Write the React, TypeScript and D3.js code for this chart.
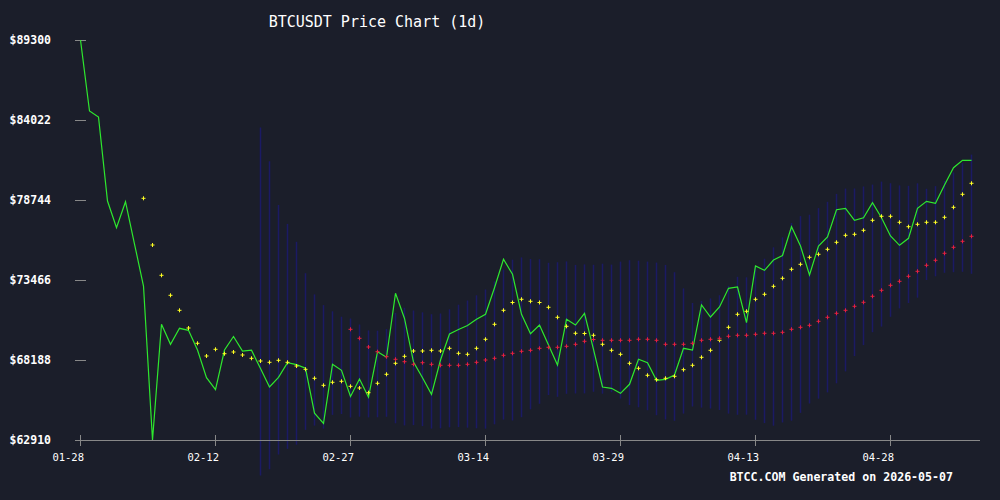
import React from 'react';
import * as d3 from 'd3';

// daily close, starting 2026-01-28
const startDate = '2026-01-28';
const closes = [
  89300, 84616, 84220, 78678, 76917, 78632, 75841, 73070, 62910, 70543,
  69224, 70279, 70147, 68848, 67020, 66229, 68848, 69738, 68782, 68835,
  67627, 66407, 67047, 68010, 67878, 67640, 64678, 64012, 67904, 67508,
  65780, 66934, 65734, 68729, 68366, 72589, 70926, 68056, 67020, 65925,
  68188, 69903, 70200, 70464, 70873, 71203, 72958, 74832, 73842, 71203,
  69923, 70497, 69178, 67858, 70873, 70497, 71269, 68894, 66407, 66321,
  65991, 66585, 68234, 68010, 66849, 66915, 67198, 68960, 68848, 71817,
  71025, 71685, 72918, 73004, 70649, 74390, 74106, 74786, 75082, 76982,
  75709, 73796, 75709, 76303, 78104, 78196, 77405, 77576, 78566, 77576,
  76369, 75755, 76217, 78196, 78658, 78526, 79734, 80875, 81363, 81363,
];

// short moving average (yellow), first value on day 7
const maShortStart = 7;
const maShort = [
  78856, 75775, 73776, 72457, 71467, 70299, 69290, 68452, 68894, 68604,
  68716, 68518, 68300, 68122, 68036, 68168, 68036, 67792, 67574, 66981,
  66519, 66717, 66783, 66453, 66341, 66031, 66651, 67245, 67970, 68432,
  68782, 68782, 68828, 68782, 68960, 68630, 68564, 68960, 69554, 70543,
  71467, 71982, 72193, 72061, 71982, 71665, 71005, 70411, 69950, 69936,
  69818, 69224, 68828, 68564, 67970, 67640, 67179, 66888, 66981, 67113,
  67548, 67838, 68366, 68828, 69488, 70345, 71203, 71401, 72193, 72523,
  73050, 73578, 74172, 74502, 74964, 75162, 75491, 75953, 76415, 76481,
  76745, 77405, 77669, 77669, 77273, 76982, 77141, 77273, 77273, 77603,
  78262, 79120, 79846,
];

// long moving average (red), first value on day 30
const maLongStart = 30;
const maLong = [
  70213, 69620, 69046, 68736, 68406, 68234, 68076, 67904, 68010, 67904,
  67838, 67838, 67838, 67904, 68036, 68188, 68300, 68498, 68630, 68762,
  68828, 68960, 69026, 69026, 69092, 69224, 69422, 69540, 69488, 69488,
  69488, 69488, 69554, 69554, 69488, 69224, 69224, 69224, 69290, 69488,
  69554, 69620, 69752, 69818, 69818, 69884, 69950, 69950, 70015, 70213,
  70345, 70477, 70741, 71005, 71269, 71467, 71731, 71995, 72391, 72786,
  73116, 73380, 73710, 74040, 74436, 74766, 75228, 75623, 76019, 76349,
];

// band (upper / lower), first value on day 20
const bandStart = 20;
const bandUpper = [
  83527, 81297, 78414, 77167, 75986, 73915, 72516, 71810, 71401, 71045,
  70926, 70530, 70141, 70121, 70227, 71295, 71632, 71454, 71335, 71210,
  71256, 71533, 71836, 72114, 72457, 72839, 73380, 74152, 74805, 74957,
  74851, 74838, 74601, 74640, 74693, 74462, 74495, 74469, 74541, 74482,
  74680, 74772, 74739, 74680, 74614, 74462, 73981, 72912, 71949, 72081,
  72252, 72463, 73083, 73677, 73644, 74363, 74871, 75623, 76283, 77227,
  77682, 77774, 78210, 78625, 79146, 79496, 79503, 79635, 79760, 79958,
  79852, 79707, 79681, 79846, 79483, 79661, 79998, 80565, 81172, 81739,
];
const bandLower = [
  60568, 60977, 61953, 62323, 62600, 63576, 63860, 63662, 64566, 64625,
  64394, 64447, 64401, 64408, 64441, 64012, 63873, 63893, 63827, 63662,
  63682, 63748, 63761, 63721, 63682, 63656, 63946, 64256, 64197, 64414,
  64935, 65298, 65879, 65760, 65958, 65978, 65985, 66090, 65965, 66064,
  65641, 65219, 65067, 64876, 64546, 64262, 64177, 64652, 65120, 65048,
  64988, 64889, 64652, 64573, 64579, 64243, 64025, 63853, 64065, 64183,
  64698, 65318, 65635, 66050, 66651, 67436, 68445, 69171, 70022, 70392,
  71038, 71592, 71949, 72298, 73466, 73710, 73941, 73981, 74007, 73875,
];

const yTicks = [89300, 84022, 78744, 73466, 68188, 62910];
const xTickLabels = ['01-28', '02-12', '02-27', '03-14', '03-29', '04-13', '04-28'];

const W = 1000;
const H = 500;
const bg = '#1b1e2a';
const mono = '"DejaVu Sans Mono", monospace';

const parse = d3.utcParse('%Y-%m-%d');
const start = parse(startDate) as Date;
const dayAt = (i: number) => d3.utcDay.offset(start, i);

const crossPath = 'M-2,0H2M0,-2V2';

const App: React.FC = () => {
  const x = d3
    .scaleUtc()
    .domain([start, dayAt(closes.length - 1)])
    .range([80.5, 971.5]);

  const y = d3.scaleLinear().domain([62910, 89300]).range([440, 40]);

  const line = d3
    .line<number>()
    .x((_, i) => x(dayAt(i)))
    .y((d) => y(d));

  const tickDates = xTickLabels.map((t) => parse('2026-' + t) as Date);

  return (
    <svg
      width={W}
      height={H}
      style={{ position: 'absolute', left: 0, top: 0, display: 'block' }}
    >
      <rect width={W} height={H} fill={bg} />

      {/* band bars */}
      <g stroke="#1b1a64" strokeWidth={1.5}>
        {bandUpper.map((u, i) => {
          const px = x(dayAt(i + bandStart));
          return <line key={i} x1={px} x2={px} y1={y(u)} y2={y(bandLower[i])} />;
        })}
      </g>

      {/* x axis */}
      <line x1={75} x2={980} y1={440.5} y2={440.5} stroke="#888" strokeWidth={1} />
      {tickDates.map((d, i) => (
        <g key={i}>
          <line x1={x(d)} x2={x(d)} y1={435} y2={446} stroke="#888" strokeWidth={1} />
          <text
            x={x(d) + 3.5}
            y={461}
            fill="#fff"
            fontFamily={mono}
            fontSize={10.5}
            textAnchor="end"
          >
            {xTickLabels[i]}
          </text>
        </g>
      ))}

      {/* y ticks */}
      {yTicks.map((t) => (
        <g key={t}>
          <line x1={75} x2={86} y1={y(t) + 0.5} y2={y(t) + 0.5} stroke="#888" strokeWidth={1} />
          <text
            x={51}
            y={y(t)}
            dy="0.35em"
            fill="#fff"
            fontFamily={mono}
            fontWeight="bold"
            fontSize={11.5}
            textAnchor="end"
          >
            ${t}
          </text>
        </g>
      ))}

      {/* price */}
      <path d={line(closes) ?? ''} fill="none" stroke="#2ee82e" strokeWidth={1.2} />

      {/* moving averages */}
      <g stroke="#ffff22" strokeWidth={1}>
        {maShort.map((v, i) => (
          <path
            key={i}
            d={crossPath}
            transform={`translate(${x(dayAt(i + maShortStart))},${y(v)})`}
          />
        ))}
      </g>
      <g stroke="#e8203e" strokeWidth={1}>
        {maLong.map((v, i) => (
          <path
            key={i}
            d={crossPath}
            transform={`translate(${x(dayAt(i + maLongStart))},${y(v)})`}
          />
        ))}
      </g>

      <text x={377} y={27} fill="#fff" fontFamily={mono} fontSize={15} textAnchor="middle">
        BTCUSDT Price Chart (1d)
      </text>
      <text
        x={953}
        y={481}
        fill="#fff"
        fontFamily={mono}
        fontWeight="bold"
        fontSize={11.6}
        textAnchor="end"
      >
        BTCC.COM Generated on 2026-05-07
      </text>
    </svg>
  );
};

export default App;
